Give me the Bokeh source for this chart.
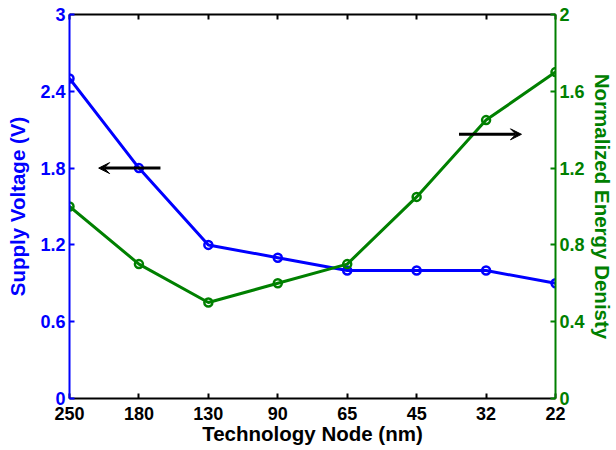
from bokeh.plotting import figure
from bokeh.models import Range1d, LinearAxis, FixedTicker, Arrow, VeeHead
from bokeh.embed import file_html
from bokeh.resources import INLINE

# ---- data ----
categories = ["250", "180", "130", "90", "65", "45", "32", "22"]
supply_voltage = [2.5, 1.8, 1.2, 1.1, 1.0, 1.0, 1.0, 0.9]
energy_density = [1.0, 0.7, 0.5, 0.6, 0.7, 1.05, 1.45, 1.7]
voltage_ticks = [0, 0.6, 1.2, 1.8, 2.4, 3]
voltage_tick_labels = ["0", "0.6", "1.2", "1.8", "2.4", "3"]
energy_ticks = [0, 0.4, 0.8, 1.2, 1.6, 2]
energy_tick_labels = ["0", "0.4", "0.8", "1.2", "1.6", "2"]

# annotation arrows (x in category index units)
left_arrow = dict(x_start=1.31, x_end=0.42, y=1.8)      # voltage scale
right_arrow = dict(x_start=5.61, x_end=6.51, y=1.376)   # energy scale

BLUE = "#0000FF"
GREEN = "#008000"
FONT = "Liberation Sans"

x = list(range(len(categories)))

p = figure(width=616, height=450, output_backend="svg", toolbar_location=None,
           x_range=Range1d(0, len(categories) - 1), y_range=Range1d(0, 3),
           min_border_left=69, min_border_right=59, min_border_top=14,
           min_border_bottom=52)
p.extra_y_ranges = {"energy": Range1d(0, 2)}
p.grid.visible = False
p.outline_line_color = None
p.background_fill_color = "white"
p.border_fill_color = "white"

def style_axis(ax, color, ticks, labels):
    ax.ticker = FixedTicker(ticks=ticks)
    ax.major_label_overrides = {t: l for t, l in zip(ticks, labels)}
    ax.axis_line_color = color
    ax.axis_line_width = 2
    ax.major_tick_line_color = color
    ax.major_tick_line_width = 2
    ax.major_tick_in = 5
    ax.major_tick_out = 0
    ax.minor_tick_line_color = None
    ax.major_label_text_color = color
    ax.major_label_text_font = FONT
    ax.major_label_text_font_style = "bold"
    ax.major_label_text_font_size = "18px"
    ax.axis_label_text_color = color
    ax.axis_label_text_font = FONT
    ax.axis_label_text_font_style = "bold"
    ax.axis_label_text_font_size = "20.5px"

# bottom axis
xa = p.xaxis[0]
style_axis(xa, "black", x, categories)
xa.axis_label = "Technology Node (nm)"
xa.major_label_standoff = 8
xa.axis_label_standoff = -1

# left axis
ya = p.yaxis[0]
style_axis(ya, BLUE, voltage_ticks, voltage_tick_labels)
ya.axis_label = "Supply Voltage (V)"
ya.major_label_standoff = 4
ya.axis_label_standoff = 8

# right axis
ra = LinearAxis(y_range_name="energy")
style_axis(ra, GREEN, energy_ticks, energy_tick_labels)
ra.axis_label = "Normalized Energy Denisty"
ra.major_label_standoff = 4
ra.axis_label_standoff = 3
p.add_layout(ra, "right")

# top axis (ticks only)
ta = LinearAxis()
style_axis(ta, "black", x, ["" for _ in x])
ta.major_label_text_font_size = "1px"
ta.major_label_standoff = 0
p.add_layout(ta, "above")

# series
p.line(x, supply_voltage, line_color=BLUE, line_width=3)
p.scatter(x, supply_voltage, size=8, line_color=BLUE, line_width=2.5,
          fill_alpha=0)
p.line(x, energy_density, line_color=GREEN, line_width=3, y_range_name="energy")
p.scatter(x, energy_density, size=8, line_color=GREEN, line_width=2.5,
          fill_alpha=0, y_range_name="energy")

# arrows
p.add_layout(Arrow(x_start=left_arrow["x_start"], y_start=left_arrow["y"],
                   x_end=left_arrow["x_end"], y_end=left_arrow["y"],
                   line_color="black", line_width=3,
                   end=VeeHead(size=11, fill_color="black", line_color="black",
                               line_width=1)))
p.add_layout(Arrow(x_start=right_arrow["x_start"], y_start=right_arrow["y"],
                   x_end=right_arrow["x_end"], y_end=right_arrow["y"],
                   y_range_name="energy",
                   line_color="black", line_width=3,
                   end=VeeHead(size=11, fill_color="black", line_color="black",
                               line_width=1)))

open("out.html", "w").write(file_html(p, INLINE))
